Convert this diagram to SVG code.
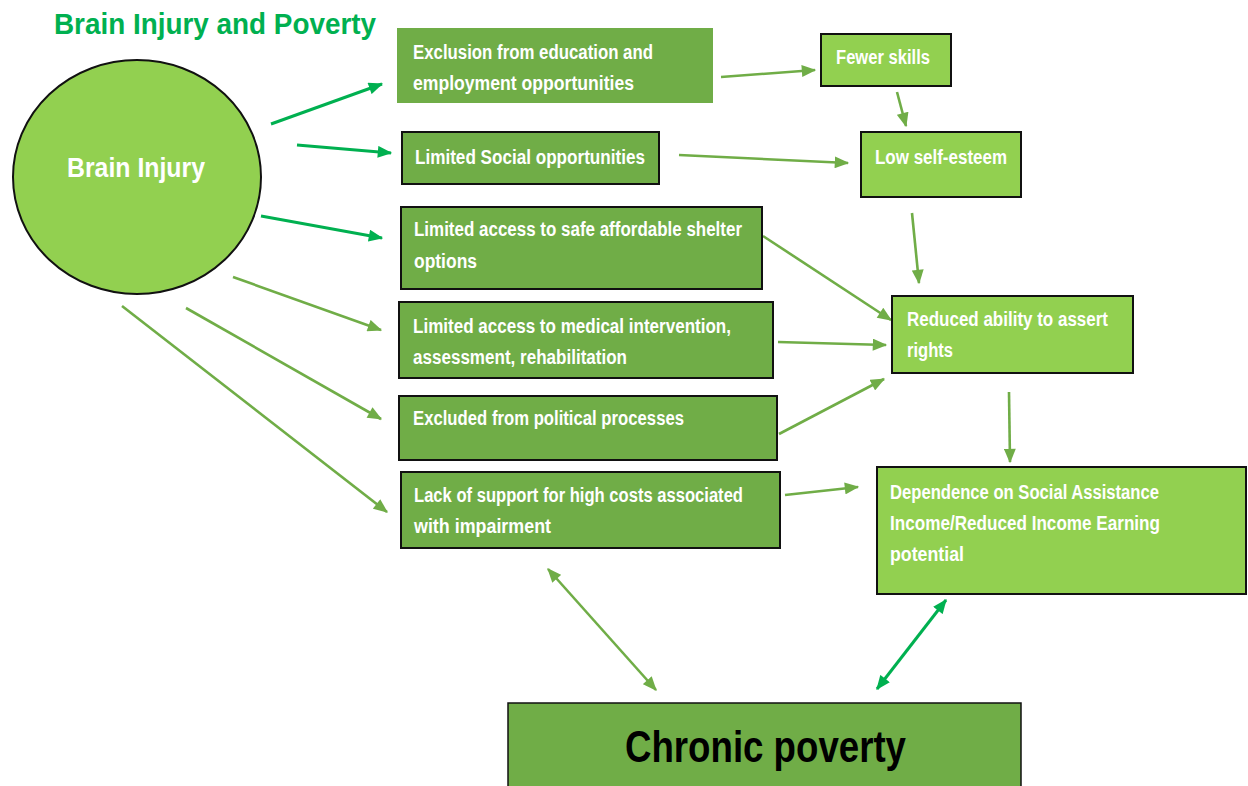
<svg xmlns="http://www.w3.org/2000/svg" width="1248" height="786" viewBox="0 0 1248 786">
<style>
.dk{fill:#70AD47;stroke:#111;stroke-width:2}
.lt{fill:#92D050;stroke:#111;stroke-width:2}
.t{font-family:"Liberation Sans Narrow","Liberation Sans",Arial,sans-serif;font-weight:bold;font-size:20px;fill:#fff}
.b{stroke:#00B050;stroke-width:3;fill:none}
.m{stroke:#70AD47;stroke-width:2.6;fill:none}
</style>
<defs>
<marker id="ab" viewBox="0 0 12 10" refX="11" refY="5" markerWidth="15" markerHeight="12" markerUnits="userSpaceOnUse" orient="auto-start-reverse"><path d="M0,0 L12,5 L0,10 z" fill="#00B050"/></marker>
<marker id="am" viewBox="0 0 12 10" refX="11" refY="5" markerWidth="15" markerHeight="12" markerUnits="userSpaceOnUse" orient="auto-start-reverse"><path d="M0,0 L12,5 L0,10 z" fill="#70AD47"/></marker>
</defs>
<rect width="1248" height="786" fill="#fff"/>
<text x="54" y="34" font-family="'Liberation Sans Narrow','Liberation Sans',Arial,sans-serif" font-weight="bold" font-size="29" fill="#00B050" textLength="322" lengthAdjust="spacingAndGlyphs">Brain Injury and Poverty</text>

<g id="connectors">
<line class="b" x1="271" y1="124" x2="382" y2="84" marker-end="url(#ab)"/>
<line class="b" x1="297" y1="145" x2="391" y2="153" marker-end="url(#ab)"/>
<line class="b" x1="261" y1="216" x2="382" y2="238" marker-end="url(#ab)"/>
<line class="m" x1="233" y1="277" x2="381" y2="330" marker-end="url(#am)"/>
<line class="m" x1="186" y1="308" x2="381" y2="419" marker-end="url(#am)"/>
<line class="m" x1="122" y1="306" x2="387" y2="512" marker-end="url(#am)"/>
<line class="m" x1="721" y1="77" x2="815" y2="70" marker-end="url(#am)"/>
<line class="m" x1="897" y1="92" x2="906" y2="126" marker-end="url(#am)"/>
<line class="m" x1="679" y1="155" x2="848" y2="163" marker-end="url(#am)"/>
<line class="m" x1="912" y1="213" x2="919" y2="283" marker-end="url(#am)"/>
<line class="m" x1="763" y1="236" x2="891" y2="320" marker-end="url(#am)"/>
<line class="m" x1="778" y1="342" x2="886" y2="345" marker-end="url(#am)"/>
<line class="m" x1="779" y1="434" x2="884" y2="379" marker-end="url(#am)"/>
<line class="m" x1="1009" y1="392" x2="1010" y2="462" marker-end="url(#am)"/>
<line class="m" x1="785" y1="495" x2="858" y2="487" marker-end="url(#am)"/>
<line class="m" x1="548" y1="569" x2="656" y2="690" marker-start="url(#am)" marker-end="url(#am)"/>
<line class="b" x1="946" y1="600" x2="877" y2="689" marker-start="url(#ab)" marker-end="url(#ab)"/>
</g>

<g id="brain-injury">
<ellipse cx="137" cy="177" rx="124" ry="117" fill="#92D050" stroke="#111" stroke-width="2"/>
<text class="t" x="67" y="177" style="font-size:28px" textLength="138" lengthAdjust="spacingAndGlyphs">Brain Injury</text>
</g>

<g id="exclusion">
<rect x="397" y="28" width="316" height="75" fill="#70AD47"/>
<text class="t" x="413" y="59" textLength="240" lengthAdjust="spacingAndGlyphs">Exclusion from education and</text>
<text class="t" x="413" y="90" textLength="221" lengthAdjust="spacingAndGlyphs">employment opportunities</text>
</g>

<g id="fewer-skills">
<rect class="lt" x="821" y="34" width="130" height="52"/>
<text class="t" x="836" y="64" textLength="94" lengthAdjust="spacingAndGlyphs">Fewer skills</text>
</g>

<g id="social">
<rect class="dk" x="402" y="132" width="257" height="52"/>
<text class="t" x="415" y="164" textLength="230" lengthAdjust="spacingAndGlyphs">Limited Social opportunities</text>
</g>

<g id="self-esteem">
<rect class="lt" x="861" y="132" width="160" height="65"/>
<text class="t" x="875" y="164" textLength="132" lengthAdjust="spacingAndGlyphs">Low self-esteem</text>
</g>

<g id="shelter">
<rect class="dk" x="401" y="207" width="361" height="82"/>
<text class="t" x="414" y="236" textLength="328" lengthAdjust="spacingAndGlyphs">Limited access to safe affordable shelter</text>
<text class="t" x="414" y="268" textLength="63" lengthAdjust="spacingAndGlyphs">options</text>
</g>

<g id="reduced-ability">
<rect class="lt" x="892" y="296" width="241" height="77"/>
<text class="t" x="907" y="326" textLength="201" lengthAdjust="spacingAndGlyphs">Reduced ability to assert</text>
<text class="t" x="907" y="357" textLength="46" lengthAdjust="spacingAndGlyphs">rights</text>
</g>

<g id="medical">
<rect class="dk" x="399" y="302" width="374" height="76"/>
<text class="t" x="413" y="333" textLength="318" lengthAdjust="spacingAndGlyphs">Limited access to medical intervention,</text>
<text class="t" x="413" y="364" textLength="214" lengthAdjust="spacingAndGlyphs">assessment, rehabilitation</text>
</g>

<g id="political">
<rect class="dk" x="399" y="396" width="378" height="64"/>
<text class="t" x="413" y="425" textLength="271" lengthAdjust="spacingAndGlyphs">Excluded from political processes</text>
</g>

<g id="costs">
<rect class="dk" x="401" y="472" width="379" height="76"/>
<text class="t" x="414" y="502" textLength="329" lengthAdjust="spacingAndGlyphs">Lack of support for high costs associated</text>
<text class="t" x="414" y="533" textLength="137" lengthAdjust="spacingAndGlyphs">with impairment</text>
</g>

<g id="dependence">
<rect class="lt" x="877" y="467" width="369" height="127"/>
<text class="t" x="890" y="499" textLength="269" lengthAdjust="spacingAndGlyphs">Dependence on Social Assistance</text>
<text class="t" x="890" y="530" textLength="270" lengthAdjust="spacingAndGlyphs">Income/Reduced Income Earning</text>
<text class="t" x="890" y="561" textLength="74" lengthAdjust="spacingAndGlyphs">potential</text>
</g>

<g id="chronic-poverty">
<rect x="508" y="703" width="513" height="90" fill="#70AD47" stroke="#111" stroke-width="1.5"/>
<text x="625" y="762" font-family="'Liberation Sans Narrow','Liberation Sans',Arial,sans-serif" font-weight="bold" font-size="44" fill="#000" textLength="281" lengthAdjust="spacingAndGlyphs">Chronic poverty</text>
</g>
</svg>
